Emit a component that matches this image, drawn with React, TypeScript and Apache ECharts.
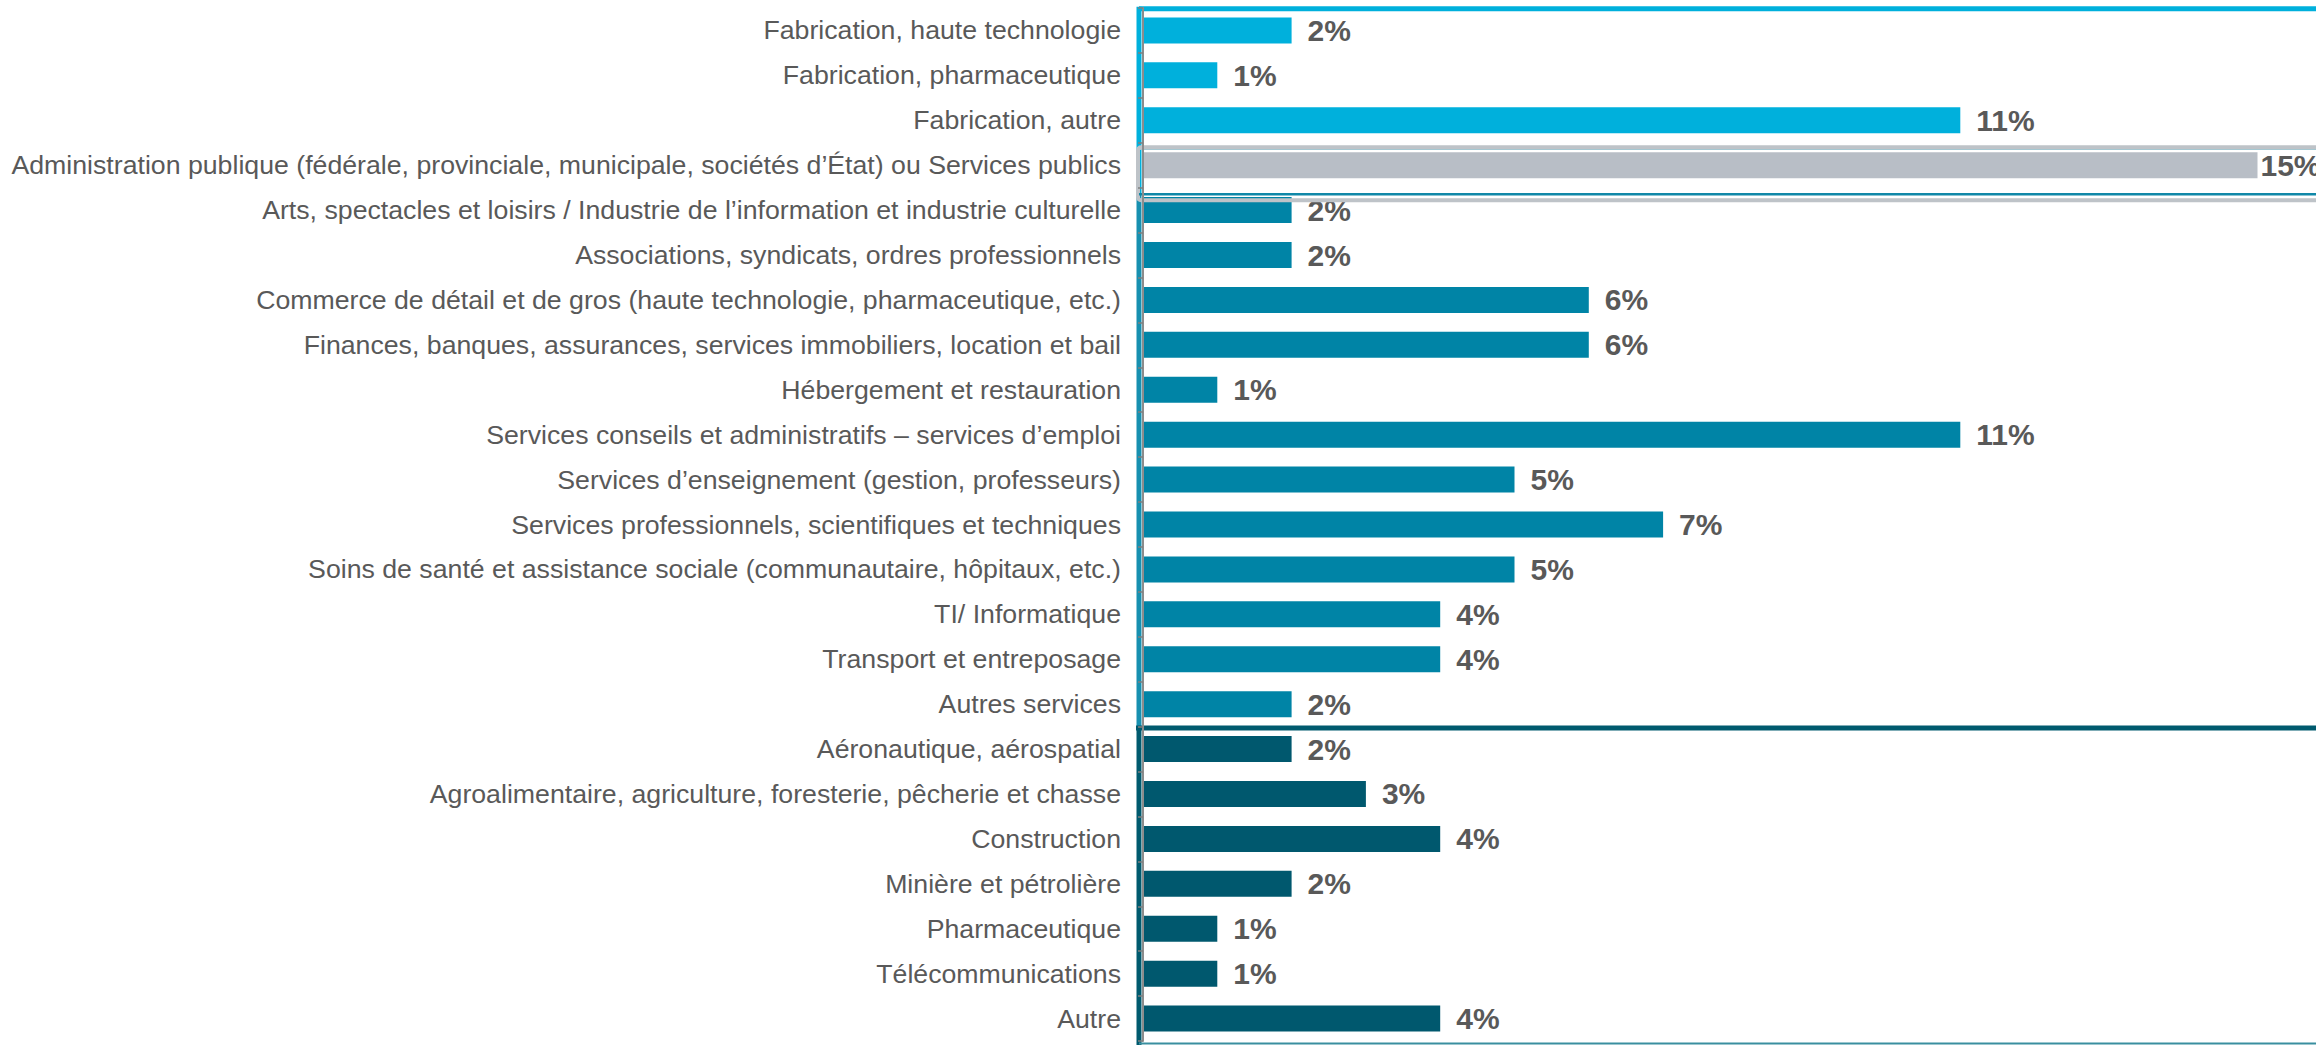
import React, { useEffect, useRef } from "react";
import * as echarts from "echarts";

const categories = [
  "Fabrication, haute technologie",
  "Fabrication, pharmaceutique",
  "Fabrication, autre",
  "Administration publique (fédérale, provinciale, municipale, sociétés d’État) ou Services publics",
  "Arts, spectacles et loisirs / Industrie de l’information et industrie culturelle",
  "Associations, syndicats, ordres professionnels",
  "Commerce de détail et de gros (haute technologie, pharmaceutique, etc.)",
  "Finances, banques, assurances, services immobiliers, location et bail",
  "Hébergement et restauration",
  "Services conseils et administratifs – services d’emploi",
  "Services d’enseignement (gestion, professeurs)",
  "Services professionnels, scientifiques et techniques",
  "Soins de santé et assistance sociale (communautaire, hôpitaux, etc.)",
  "TI/ Informatique",
  "Transport et entreposage",
  "Autres services",
  "Aéronautique, aérospatial",
  "Agroalimentaire, agriculture, foresterie, pêcherie et chasse",
  "Construction",
  "Minière et pétrolière",
  "Pharmaceutique",
  "Télécommunications",
  "Autre",
];

const values = [2, 1, 11, 15, 2, 2, 6, 6, 1, 11, 5, 7, 5, 4, 4, 2, 2, 3, 4, 2, 1, 1, 4];

const groups = [
  "fab", "fab", "fab",
  "pub",
  "serv", "serv", "serv", "serv", "serv", "serv", "serv", "serv", "serv", "serv", "serv", "serv",
  "other", "other", "other", "other", "other", "other", "other",
];

const groupColors: Record<string, string> = {
  fab: "#00B0DC",
  pub: "#B8BEC6",
  serv: "#0084A6",
  other: "#00586E",
};

const W = 2316;
const H = 1045;
const GRID_LEFT = 1143;
const GRID_TOP = 8;
const GRID_BOTTOM = 4;
const FONT = "'Liberation Sans', Arial, sans-serif";

export default function App() {
  const ref = useRef<HTMLDivElement>(null);

  useEffect(() => {
    document.body.style.margin = "0";
    document.body.style.overflow = "hidden";
    const chart = echarts.init(ref.current!, undefined, { renderer: "svg" });

    const band = (H - GRID_TOP - GRID_BOTTOM) / categories.length;
    const rowY = (i: number) => GRID_TOP + i * band; // top boundary of row i
    const vx = GRID_LEFT - 4;
    const farRight = W + 20;

    const data = values.map((v, i) => ({
      value: v,
      itemStyle: { color: groupColors[groups[i]] },
      label: groups[i] === "pub" ? { distance: 3 } : undefined,
    }));

    const y1Top = GRID_TOP + 0.7;
    const yPubTop = rowY(3) + 5.5;
    const yPubBot = rowY(4) + 11.5;
    const yServTop = rowY(4) + 6.5;
    const yOtherTop = rowY(16) + 1.5;
    const yBottom = H - 1.5;

    const graphic: any[] = [
      // light blue frame (fabrication)
      { type: "line", z: 10, shape: { x1: vx, y1: y1Top, x2: farRight, y2: y1Top }, style: { stroke: "#00B0DC", lineWidth: 5 } },
      { type: "line", z: 10, shape: { x1: vx, y1: y1Top - 2, x2: vx, y2: yServTop }, style: { stroke: "#00B0DC", lineWidth: 5 } },
      { type: "line", z: 10, shape: { x1: vx, y1: yPubTop + 1, x2: farRight, y2: yPubTop + 1 }, style: { stroke: "#9CC8D4", lineWidth: 1.5 } },
      // gray frame (public)
      { type: "rect", z: 11, shape: { x: vx - 1, y: yPubTop - 1, width: W, height: yPubBot - yPubTop + 2, r: 3 }, style: { fill: "none", stroke: "#BEC3C8", lineWidth: 4 } },
      // teal frame (services)
      { type: "line", z: 12, shape: { x1: vx, y1: yServTop, x2: farRight, y2: yServTop }, style: { stroke: "#1088A8", lineWidth: 2.5 } },
      { type: "line", z: 10, shape: { x1: vx, y1: yServTop, x2: vx, y2: yOtherTop }, style: { stroke: "#1790B0", lineWidth: 5 } },
      // dark frame (other)
      { type: "line", z: 10, shape: { x1: vx - 3, y1: yOtherTop, x2: farRight, y2: yOtherTop }, style: { stroke: "#005A6E", lineWidth: 5 } },
      { type: "line", z: 10, shape: { x1: vx, y1: yOtherTop, x2: vx, y2: H + 5 }, style: { stroke: "#005A6E", lineWidth: 5 } },
      { type: "line", z: 10, shape: { x1: vx, y1: yBottom, x2: farRight, y2: yBottom }, style: { stroke: "#3A8FA0", lineWidth: 2 } },
    ];

    chart.setOption({
      animation: false,
      backgroundColor: "#ffffff",
      textStyle: { fontFamily: FONT },
      grid: { left: GRID_LEFT, right: 0, top: GRID_TOP, bottom: GRID_BOTTOM, containLabel: false },
      xAxis: {
        type: "value",
        min: 0,
        max: (W - GRID_LEFT) / 74.3,
        show: false,
        splitLine: { show: false },
      },
      yAxis: {
        type: "category",
        data: categories,
        inverse: true,
        axisLine: { show: true, lineStyle: { color: "#8C8C8C", width: 2 } },
        axisTick: { show: true, length: 5, lineStyle: { color: "#7F7F7F", width: 1.5 } },
        axisLabel: {
          color: "#595959",
          fontSize: 26.7,
          fontFamily: FONT,
          margin: 22,
        },
        z: 20,
      },
      series: [
        {
          type: "bar",
          data,
          barWidth: 26,
          label: {
            show: true,
            position: "right",
            distance: 16,
            formatter: "{c}%",
            color: "#595959",
            fontSize: 30,
            fontWeight: "bold",
            fontFamily: FONT,
          },
        },
      ],
      graphic,
    });

    return () => chart.dispose();
  }, []);

  return <div ref={ref} style={{ width: W, height: H }} />;
}
